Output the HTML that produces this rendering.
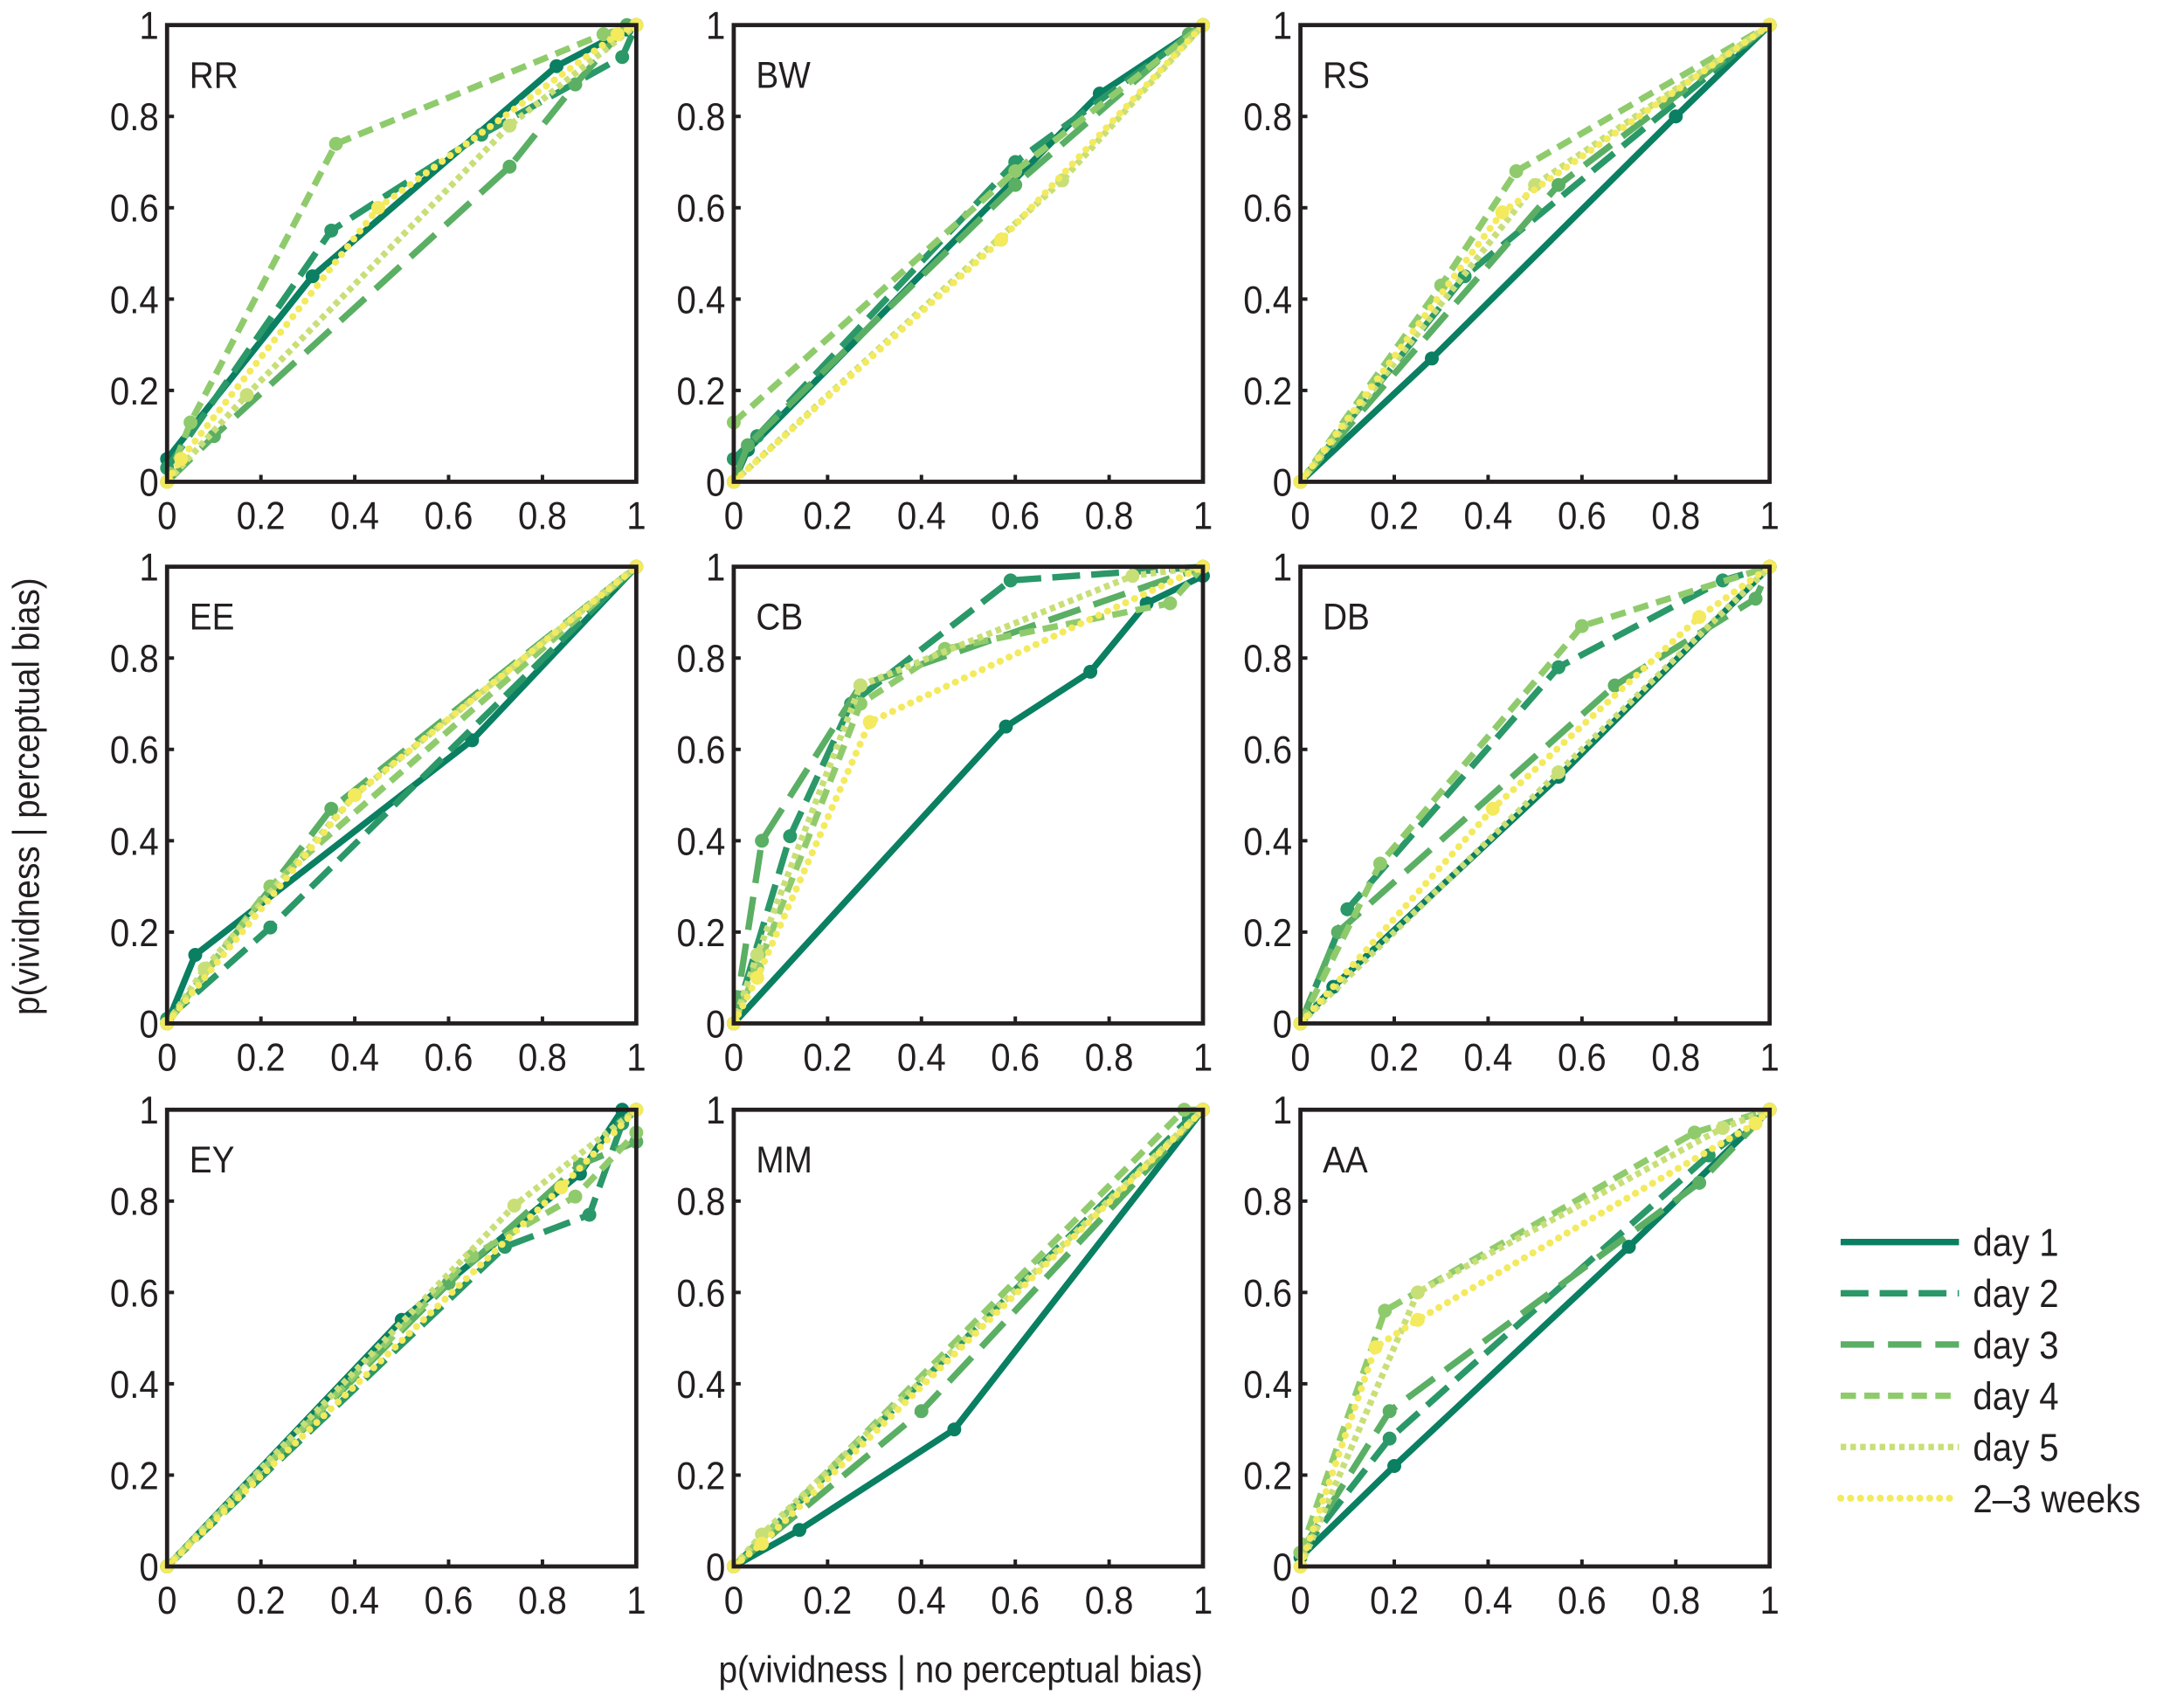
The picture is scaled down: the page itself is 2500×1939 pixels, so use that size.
<!DOCTYPE html>
<html><head><meta charset="utf-8"><style>
html,body{margin:0;padding:0;background:#fff}
svg{display:block}
text{font-family:"Liberation Sans",sans-serif;fill:#231f20}
</style></head><body>
<svg id="s" width="2500" height="1939" viewBox="0 0 1568.6 1216.6" xmlns="http://www.w3.org/2000/svg"></svg>
<script>
const S=document.getElementById('s');const NS='http://www.w3.org/2000/svg';
function el(t,a,txt){const e=document.createElementNS(NS,t);for(const k in a)e.setAttribute(k,a[k]);if(txt!==undefined)e.textContent=txt;S.appendChild(e);return e;}
function tx(x,y,size,anchor,s,rot){return el('text',{x:0,y:0,'font-size':size,'text-anchor':anchor,transform:'translate('+x+','+y+')'+(rot?' rotate(-90)':'')+' scale(0.9,1)'},s);}
const styles=[
 {c:'#0a7f62',d:''},
 {c:'#2a9868',d:'20 8'},
 {c:'#5aaf64',d:'24 10'},
 {c:'#8fcb6c',d:'11 6'},
 {c:'#c8df78',d:'4 3'},
 {c:'#f3ea5e',d:'0.1 7',cap:'round'}
];
const cols=[120,527,934],rows=[18,407,797],W=337,H=328;
const P=[
['RR',[[[0,0.05],[0.31,0.45],[0.83,0.91],[0.98,0.99],[1,1]],[[0,0.03],[0.35,0.55],[0.67,0.76],[0.97,0.93],[1,1]],[[0,0],[0.1,0.1],[0.73,0.69],[0.87,0.87],[0.98,1],[1,1]],[[0,0],[0.05,0.13],[0.36,0.74],[0.93,0.98],[1,1]],[[0,0],[0.17,0.19],[0.73,0.78],[1,1]],[[0,0],[0.03,0.05],[0.45,0.6],[0.96,0.98],[1,1]]]],
['BW',[[[0,0],[0.03,0.07],[0.78,0.85],[1,1]],[[0,0.05],[0.05,0.1],[0.6,0.7],[1,1]],[[0,0],[0.03,0.08],[0.6,0.65],[0.97,0.98],[1,1]],[[0,0.13],[0.6,0.68],[1,1]],[[0,0],[0.7,0.66],[1,1]],[[0,0],[0.57,0.53],[1,1]]]],
['RS',[[[0,0],[0.28,0.27],[0.8,0.8],[1,1]],[[0,0],[0.35,0.45],[1,1]],[[0,0],[0.55,0.65],[1,1]],[[0,0],[0.3,0.43],[0.46,0.68],[1,1]],[[0,0],[0.5,0.65],[1,1]],[[0,0],[0.43,0.59],[1,1]]]],
['EE',[[[0,0],[0.06,0.15],[0.65,0.62],[1,1]],[[0,0.01],[0.22,0.21],[1,1]],[[0,0],[0.35,0.47],[1,1]],[[0,0],[0.22,0.3],[1,1]],[[0,0],[0.08,0.12],[0.4,0.5],[1,1]],[[0,0],[0.4,0.5],[1,1]]]],
['CB',[[[0,0],[0.58,0.65],[0.76,0.77],[0.88,0.92],[1,0.98]],[[0,0],[0.12,0.41],[0.25,0.7],[0.59,0.97],[1,1]],[[0,0],[0.06,0.4],[0.27,0.74],[1,1]],[[0,0],[0.05,0.12],[0.27,0.7],[0.45,0.82],[0.93,0.92],[1,1]],[[0,0],[0.05,0.15],[0.27,0.74],[0.85,0.98],[1,1]],[[0,0],[0.05,0.1],[0.29,0.66],[1,1]]]],
['DB',[[[0,0],[0.07,0.08],[0.55,0.54],[1,1]],[[0,0],[0.1,0.25],[0.55,0.78],[0.9,0.97],[1,1]],[[0,0],[0.08,0.2],[0.67,0.74],[0.97,0.93],[1,1]],[[0,0],[0.17,0.35],[0.6,0.87],[1,1]],[[0,0],[0.55,0.55],[1,1]],[[0,0],[0.41,0.47],[0.85,0.89],[1,1]]]],
['EY',[[[0,0],[0.5,0.54],[0.88,0.86],[0.97,1]],[[0,0],[0.72,0.7],[0.9,0.77],[0.97,0.97],[1,1]],[[0,0],[0.6,0.62],[0.88,0.88],[1,0.93]],[[0,0],[0.65,0.68],[0.87,0.81],[1,0.95]],[[0,0],[0.74,0.79],[1,1]],[[0,0],[0.84,0.83],[1,1]]]],
['MM',[[[0,0],[0.14,0.08],[0.47,0.3],[1,1]],[[0,0],[0.97,0.98],[1,1]],[[0,0],[0.4,0.34],[1,1]],[[0,0],[0.96,1],[1,1]],[[0,0],[0.06,0.07],[1,1]],[[0,0],[0.06,0.05],[1,1]]]],
['AA',[[[0,0.02],[0.2,0.22],[0.7,0.7],[1,1]],[[0,0.03],[0.19,0.28],[0.87,0.9],[1,1]],[[0,0.03],[0.19,0.34],[0.85,0.84],[1,1]],[[0,0.03],[0.18,0.56],[0.84,0.95],[1,1]],[[0,0],[0.25,0.6],[0.9,0.96],[1,1]],[[0,0],[0.16,0.48],[0.25,0.54],[0.97,0.97],[1,1]]]]
];
P.forEach((p,i)=>{
 const L=cols[i%3],T=rows[Math.floor(i/3)],R=L+W,B=T+H;
 const X=v=>L+v*W,Y=v=>B-v*H;
 p[1].forEach((ser,k)=>{
  const st=styles[k];
  el('polyline',{points:ser.map(q=>X(q[0])+','+Y(q[1])).join(' '),fill:'none',stroke:st.c,'stroke-width':k==5?5:4.6,'stroke-dasharray':st.d,'stroke-linecap':st.cap||'butt','stroke-linejoin':'round'});
  ser.forEach(q=>el('circle',{cx:X(q[0]),cy:Y(q[1]),r:5,fill:st.c}));
 });
 el('rect',{x:L,y:T,width:W,height:H,fill:'none',stroke:'#231f20','stroke-width':3});
 for(let t=0;t<=5;t++){
  const v=t/5,lab=t==0?'0':t==5?'1':v.toFixed(1);
  el('line',{x1:X(v),y1:B,x2:X(v),y2:B-5,stroke:'#231f20','stroke-width':2.5});
  el('line',{x1:L,y1:Y(v),x2:L+5,y2:Y(v),stroke:'#231f20','stroke-width':2.5});
  tx(X(v),B+34,28,'middle',lab);
  tx(L-6,Y(v)+10,28,'end',lab);
 }
 tx(L+16,T+45,27,'start',p[0]);
});
tx(690,1208,27,'middle','p(vividness | no perceptual bias)');
tx(28,572,27,'middle','p(vividness | perceptual bias)',true);
const labs=['day 1','day 2','day 3','day 4','day 5','2–3 weeks'];
labs.forEach((t,k)=>{const y=892+k*36.8,st=styles[k];
 el('line',{x1:1322,y1:y,x2:1407,y2:y,stroke:st.c,'stroke-width':k==5?5:4.6,'stroke-dasharray':st.d,'stroke-linecap':st.cap||'butt'});
 tx(1417,y+10,28,'start',t);});
</script>
</body></html>
